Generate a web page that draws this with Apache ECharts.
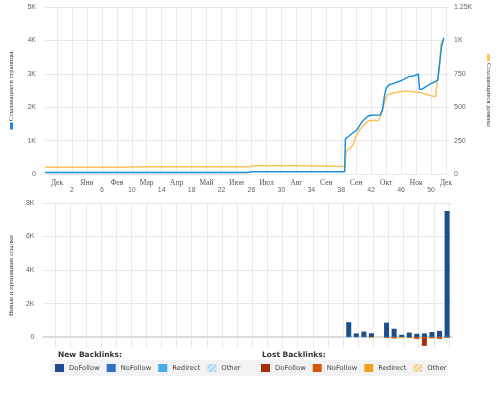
<!DOCTYPE html>
<html><head><meta charset="utf-8">
<script src="https://cdn.jsdelivr.net/npm/echarts@6/dist/echarts.min.js"></script>
<style>html,body{margin:0;padding:0;background:#fff}#c{width:500px;height:395px}</style>
</head><body><div id="c"></div><script>
// ---- data ----
const monthLabels = ['Дек','Янв','Фев','Мар','Апр','Май','Июн','Июл','Авг','Сен','Сен','Окт','Ноя','Дек'];
const monthWeeks = [0,4,8,12,16,20,24,28,32,36,40,44,48,52];
const weekLabels = [2,6,10,14,18,22,26,30,34,38,42,46,50];
const gridWeeks = [0,2,4,6,8,10,12,14,16,18,20,22,24,26,28,30,32,34,36,38,40,42,44,46,48,50,52];
const pagesTicks = [0,1000,2000,3000,4000,5000];
const domainsTicks = [0,250,500,750,1000,1250];
const linksTicks = [0,2000,4000,6000,8000];

const pagesData = [[-1.6,45],[25.5,45],[26,65],[38.45,65],[38.55,1050],[39.0,1130],[39.5,1220],[40.1,1320],[40.35,1420],[40.8,1570],[41.5,1720],[41.9,1760],[43.2,1765],[43.5,1920],[43.8,2370],[44.0,2570],[44.4,2670],[45.1,2720],[45.7,2770],[46.2,2820],[46.9,2900],[47.3,2930],[47.7,2935],[48.3,2995],[48.45,2540],[48.8,2540],[49.5,2640],[49.9,2700],[50.6,2770],[50.9,2815],[51.1,3210],[51.4,3810],[51.7,4080]];
const domainsData = [[-1.6,50],[8,50],[12,55],[25.6,55],[26.2,62],[33,62],[38.5,57],[38.6,150],[38.8,180],[39.2,194],[39.6,219],[39.8,256],[40.2,306],[40.6,343],[41.3,381],[41.7,400],[43.0,400],[43.4,455],[43.8,542],[44.2,592],[44.8,604],[45.9,616],[46.8,622],[47.3,616],[48.5,610],[49.1,600],[49.9,588],[50.6,579],[50.85,590],[51.1,803],[51.35,978],[51.55,1002]];

const barWeeks = [38.75,39.75,40.75,41.75,43.75,44.75,45.75,46.75,47.75,48.75,49.75,50.75,51.75];
const newDoFollow = [890,220,330,230,860,500,140,270,200,220,300,370,7520];
const newNoFollow = [50,20,50,10,40,50,20,10,10,10,40,40,60];
const newRedirect = [0,0,0,0,0,0,0,0,0,0,0,0,0];
const newOther = [0,0,0,0,0,0,0,0,0,0,0,0,0];
const lostDoFollow = [0,0,0,0,-40,-60,0,-40,-60,-520,-40,-100,-40];
const lostNoFollow = [0,0,0,0,0,-80,0,0,-120,-60,-80,-120,-20];
const lostRedirect = [0,0,0,-60,0,0,-60,0,0,0,0,0,0];
const lostOther = [0,0,0,0,0,0,0,0,0,0,0,0,0];

const hatch = {symbol:'rect', symbolSize:1, dashArrayX:[1,0], dashArrayY:[1.5,1.5], rotation:-Math.PI/4, color:'rgba(255,255,255,0.55)'};
const barSeriesDefs = [
  ['New|DoFollow', newDoFollow, '#1c4d8d', null],
  ['New|NoFollow', newNoFollow, '#2e72c8', null],
  ['New|Redirect', newRedirect, '#45aaee', null],
  ['New|Other', newOther, '#a3d8f3', hatch],
  ['Lost|DoFollow', lostDoFollow, '#a2300a', null],
  ['Lost|NoFollow', lostNoFollow, '#d8570e', null],
  ['Lost|Redirect', lostRedirect, '#f2a31e', null],
  ['Lost|Other', lostOther, '#edcf8a', hatch]
];

const BLUE = '#1a8fdd', ORANGE = '#fdc35a';
const GRIDC = '#e9e9e9';
const SANS = 'Liberation Sans';
const SERIF = 'Liberation Serif';

const chart = echarts.init(document.getElementById('c'), null, {renderer:'canvas'});
const kfmt = v => v === 0 ? '0' : (v >= 1000 ? (v/1000) + 'K' : String(v));

const legendBase = {padding:0, itemWidth:9, itemHeight:8, itemGap:7, icon:'rect', selectedMode:false,
  formatter: n => n.split('|')[1], textStyle:{fontSize:6.8, color:'#444', fontFamily:'DejaVu Sans'}};

const option = {
  animation: false,
  backgroundColor: '#fff',
  title: [
    {text:'New Backlinks:', left:58, top:351, padding:0, textStyle:{fontSize:7.5, fontWeight:'bold', color:'#333', fontFamily:'DejaVu Sans'}},
    {text:'Lost Backlinks:', left:262, top:351, padding:0, textStyle:{fontSize:7.5, fontWeight:'bold', color:'#333', fontFamily:'DejaVu Sans'}}
  ],
  graphic: [
    {type:'rect', left:51, top:360, z:0, shape:{width:397, height:16}, style:{fill:'#f3f3f3'}}
  ],
  legend: [
    Object.assign({data: barSeriesDefs.slice(0,4).map(d=>d[0]), left:55, top:364}, legendBase),
    Object.assign({data: barSeriesDefs.slice(4).map(d=>d[0]), left:261, top:364}, legendBase)
  ],
  grid: [
    {left:43, right:48, top:7, bottom:221},
    {left:43, right:48, top:203, bottom:47}
  ],
  xAxis: [
    {type:'value', gridIndex:0, min:-1.6, max:52.4, position:'bottom',
     axisLine:{show:false}, axisTick:{show:false, customValues:gridWeeks},
     axisLabel:{customValues:monthWeeks, formatter:v => monthLabels[monthWeeks.indexOf(v)], margin:5,
       fontSize:7.5, color:'#555', fontFamily:SERIF},
     splitLine:{show:true, lineStyle:{color:GRIDC, width:1}}},
    {type:'value', gridIndex:0, min:-1.6, max:52.4, position:'bottom',
     axisLine:{show:false}, axisTick:{show:false, customValues:weekLabels},
     axisLabel:{customValues:weekLabels, formatter:v => String(v), margin:13,
       fontSize:7, color:'#666', fontFamily:SANS},
     splitLine:{show:false}},
    {type:'value', gridIndex:1, min:-1.6, max:52.4, position:'bottom',
     axisLine:{show:true, onZero:true, lineStyle:{color:'#dcdcdc', width:2}}, axisTick:{show:false, customValues:gridWeeks},
     axisLabel:{show:false},
     splitLine:{show:true, lineStyle:{color:GRIDC, width:1}}}
  ],
  yAxis: [
    {type:'value', gridIndex:0, min:0, max:5000, position:'left',
     axisTick:{show:false, customValues:pagesTicks}, axisLine:{show:false},
     axisLabel:{customValues:pagesTicks, formatter:kfmt, fontSize:7, color:'#666', fontFamily:SANS, margin:9},
     splitLine:{lineStyle:{color:GRIDC, width:1}},
     name:'{m| } Ссылающиеся страницы', nameLocation:'middle', nameRotate:90, nameGap:30,
     nameTextStyle:{fontSize:6.6, color:'#333', fontFamily:SERIF, rich:{m:{backgroundColor:BLUE, width:7, height:3, fontSize:3}}}},
    {type:'value', gridIndex:0, min:0, max:1250, position:'right',
     axisTick:{show:false, customValues:domainsTicks}, axisLine:{show:false},
     axisLabel:{customValues:domainsTicks, formatter:kfmt, fontSize:7, color:'#666', fontFamily:SANS, margin:5},
     splitLine:{show:false},
     name:'{m| } Ссылающиеся домены', nameLocation:'middle', nameRotate:-90, nameGap:36,
     nameTextStyle:{fontSize:6.6, color:'#333', fontFamily:SERIF, rich:{m:{backgroundColor:ORANGE, width:7, height:3, fontSize:3}}}},
    {type:'value', gridIndex:1, min:-650, max:8000, position:'left',
     axisTick:{show:false, customValues:linksTicks}, axisLine:{show:false},
     axisLabel:{customValues:linksTicks, formatter:kfmt, fontSize:7, color:'#666', fontFamily:SANS, margin:9},
     splitLine:{lineStyle:{color:GRIDC, width:1}},
     name:'Новые и пропавшие ссылки', nameLocation:'middle', nameRotate:90, nameGap:27,
     nameTextStyle:{fontSize:6.8, color:'#333', fontFamily:SERIF}}
  ],
  series: [
    {name:'Ссылающиеся домены', type:'line', xAxisIndex:0, yAxisIndex:1, data:domainsData, showSymbol:false, symbol:'none',
     lineStyle:{color:ORANGE, width:1.5}, itemStyle:{color:ORANGE}, z:2},
    {name:'Ссылающиеся страницы', type:'line', xAxisIndex:0, yAxisIndex:0, data:pagesData, showSymbol:false, symbol:'none',
     lineStyle:{color:BLUE, width:1.5}, itemStyle:{color:BLUE}, z:3}
  ].concat(barSeriesDefs.map(d => ({
    name:d[0], type:'bar', xAxisIndex:2, yAxisIndex:2, stack:'links', barWidth:5,
    data: barWeeks.map((w,i) => [w, d[1][i]]),
    itemStyle: d[3] ? {color:d[2], decal:d[3]} : {color:d[2]}
  })))
};
chart.setOption(option);
</script></body></html>
